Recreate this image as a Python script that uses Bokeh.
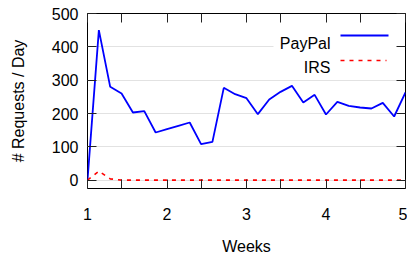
from bokeh.plotting import figure
from bokeh.models import Range1d, FixedTicker, LinearAxis, Label, Arrow, BoxAnnotation
from bokeh.embed import file_html
from bokeh.resources import INLINE

# ---- data ----
days = [0, 1, 2, 3, 4, 5, 6, 7, 8, 9, 10, 11, 12, 13, 14, 15, 16, 17, 18, 19,
        20, 21, 22, 23, 24, 25, 26, 27, 28]
paypal = [0, 450, 280, 260, 203, 207, 143, 153, 163, 173, 108, 115, 277, 258,
          246, 198, 242, 265, 283, 233, 256, 197, 235, 223, 218, 215, 232, 191, 263]
irs = [0, 27, 4, 0, 0, 0, 0, 0, 0, 0, 0, 0, 0, 0, 0, 0, 0, 0, 0, 0,
       0, 0, 0, 0, 0, 0, 0, 0, 0]
week_ticks = [0, 7, 14, 21, 28]
week_labels = ["1", "2", "3", "4", "5"]
minor_day_ticks = [3, 10, 17, 24]
y_ticks = [0, 100, 200, 300, 400, 500]

FONT = "Liberation Sans"
FS = "16px"
TICK = "#222222"

p = figure(width=407, height=261,
           x_range=Range1d(0, 28), y_range=Range1d(-25, 500),
           output_backend="svg", toolbar_location=None,
           min_border_left=87, min_border_right=2, min_border_top=13, min_border_bottom=73)

p.outline_line_color = "black"
p.outline_line_width = 1
p.outline_line_alpha = 1
p.background_fill_color = "white"
p.border_fill_color = "white"

# x axis
xa = p.xaxis[0]
xa.ticker = FixedTicker(ticks=week_ticks, minor_ticks=minor_day_ticks)
xa.major_label_overrides = {t: l for t, l in zip(week_ticks, week_labels)}
xa.axis_label = "Weeks"
xa.major_label_standoff = 19
xa.axis_label_standoff = 15

# y axis
ya = p.yaxis[0]
ya.ticker = FixedTicker(ticks=y_ticks)
ya.axis_label = "# Requests / Day"
ya.major_label_standoff = 9
ya.axis_label_standoff = 22

for ax in (xa, ya):
    ax.axis_line_color = None
    ax.major_tick_in = 9
    ax.major_tick_out = 0
    ax.minor_tick_in = 9
    ax.minor_tick_out = 0
    ax.major_tick_line_color = TICK
    ax.minor_tick_line_color = TICK
    ax.major_label_text_font = FONT
    ax.major_label_text_font_size = FS
    ax.major_label_text_color = "black"
    ax.axis_label_text_font = FONT
    ax.axis_label_text_font_size = FS
    ax.axis_label_text_font_style = "normal"
    ax.axis_label_text_color = "black"
ya.minor_tick_line_color = None

# mirror axes (ticks only, no labels drawn)
top = LinearAxis(ticker=FixedTicker(ticks=week_ticks, minor_ticks=minor_day_ticks),
                 axis_line_color=None, major_tick_in=9, major_tick_out=0,
                 minor_tick_in=9, minor_tick_out=0,
                 major_tick_line_color=TICK, minor_tick_line_color=TICK,
                 major_label_text_color=None, major_label_text_font_size="0px",
                 major_label_standoff=0)
p.add_layout(top, "above")
right = LinearAxis(ticker=FixedTicker(ticks=y_ticks),
                   axis_line_color=None, major_tick_in=9, major_tick_out=0,
                   minor_tick_line_color=None,
                   major_tick_line_color=TICK,
                   major_label_text_color=None, major_label_text_font_size="0px",
                   major_label_standoff=0)
p.add_layout(right, "right")

# grid
p.xgrid.visible = False
p.ygrid.ticker = FixedTicker(ticks=y_ticks)
p.ygrid.grid_line_color = "#c4c4c4"
p.ygrid.grid_line_dash = "1 1"
p.ygrid.grid_line_width = 1

# data lines
p.line(days, paypal, line_color="#0000ff", line_width=1.8)
p.line(days, irs, line_color="#ff0000", line_width=1.6, line_dash="4 5")

# legend (gnuplot style: label then sample)
p.add_layout(BoxAnnotation(left=186, right=317, top=166, bottom=116,
                           left_units="screen", right_units="screen",
                           top_units="screen", bottom_units="screen",
                           fill_color="white", fill_alpha=1, line_color=None,
                           level="underlay"))
p.add_layout(Label(x=243, y=145, x_units="screen", y_units="screen", text="PayPal",
                   text_align="right", text_baseline="alphabetic",
                   text_font=FONT, text_font_size=FS, text_color="black"))
p.add_layout(Label(x=243, y=121, x_units="screen", y_units="screen", text="IRS",
                   text_align="right", text_baseline="alphabetic",
                   text_font=FONT, text_font_size=FS, text_color="black"))
p.add_layout(Arrow(end=None, x_start=253, y_start=153, x_end=301, y_end=153,
                   start_units="screen", end_units="screen",
                   line_color="#0000ff", line_width=1.8))
p.add_layout(Arrow(end=None, x_start=253, y_start=128, x_end=299, y_end=128,
                   start_units="screen", end_units="screen",
                   line_color="#ff0000", line_width=1.6, line_dash="4 5"))

open("out.html", "w").write(file_html(p, INLINE))
